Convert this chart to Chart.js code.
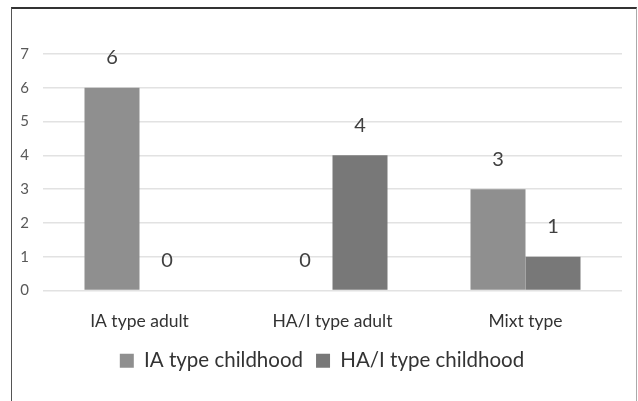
<!DOCTYPE html>
<html>
<head>
<meta charset="utf-8">
<script src="https://cdn.jsdelivr.net/npm/chart.js@4"></script>
<style>
    body { margin: 0; background: #fff; }
    #wrap { position: relative; width: 638px; height: 401px; }
    #frame {
        position: absolute; left: 11px; top: 7px; width: 624px; height: 400px;
        border-top: 2px solid #333; border-left: 1px solid #555; border-right: 1px solid #aaa;
        pointer-events: none;
    }
</style>
</head>
<body>
<div id="wrap">
    <canvas id="chart" width="638" height="401"></canvas>
    <div id="frame"></div>
</div>
<script>
const categories = ['IA type adult', 'HA/I type adult', 'Mixt type'];
const iaChildhood = [6, 0, 3];
const haChildhood = [0, 4, 1];
const seriesNames = ['IA type childhood', 'HA/I type childhood'];
const yTicks = [0, 1, 2, 3, 4, 5, 6, 7];

// Write the value above each bar, like the Excel "outside end" labels
const valueLabels = {
    id: 'valueLabels',
    afterDatasetsDraw(chart) {
        const ctx = chart.ctx;
        ctx.save();
        ctx.font = '20px Lato';
        ctx.fillStyle = '#404040';
        ctx.textAlign = 'center';
        ctx.textBaseline = 'middle';
        chart.data.datasets.forEach((ds, i) => {
            chart.getDatasetMeta(i).data.forEach((bar, j) => {
                ctx.fillText(ds.data[j], bar.x, bar.y - 30);
            });
        });
        ctx.restore();
    }
};

// The legend sits a little right of the canvas centre in the original
const legendShift = {
    id: 'legendShift',
    afterLayout(chart) {
        chart.legend.left += 11;
        chart.legend.right += 11;
    }
};

new Chart(document.getElementById('chart'), {
    type: 'bar',
    data: {
        labels: categories,
        datasets: [
            { label: seriesNames[0], data: iaChildhood, backgroundColor: '#8f8f8f' },
            { label: seriesNames[1], data: haChildhood, backgroundColor: '#787878' }
        ]
    },
    options: {
        responsive: false,
        animation: false,
        devicePixelRatio: 1,
        layout: { padding: { left: 0, right: 16, top: 54, bottom: 20 } },
        datasets: { bar: { barPercentage: 1, categoryPercentage: 0.57 } },
        plugins: {
            legend: {
                position: 'bottom',
                labels: {
                    font: { family: 'Lato', size: 20.5 },
                    color: '#333',
                    boxWidth: 14,
                    boxHeight: 14,
                    padding: 13
                }
            },
            tooltip: { enabled: false }
        },
        scales: {
            x: {
                grid: { display: false },
                border: { display: false },
                ticks: { font: { family: 'Lato', size: 17.5 }, color: '#333', padding: 12 },
                afterFit: scale => { scale.height = 47; }
            },
            y: {
                min: 0,
                max: 7,
                afterBuildTicks: scale => { scale.ticks = yTicks.map(v => ({ value: v })); },
                grid: { color: '#e2e2e2', lineWidth: 1.5, drawTicks: false },
                border: { display: false },
                ticks: { font: { family: 'Lato', size: 15 }, color: '#595959', padding: 14 },
                afterFit: scale => { scale.width = 43; }
            }
        }
    },
    plugins: [valueLabels, legendShift]
});
</script>
</body>
</html>
